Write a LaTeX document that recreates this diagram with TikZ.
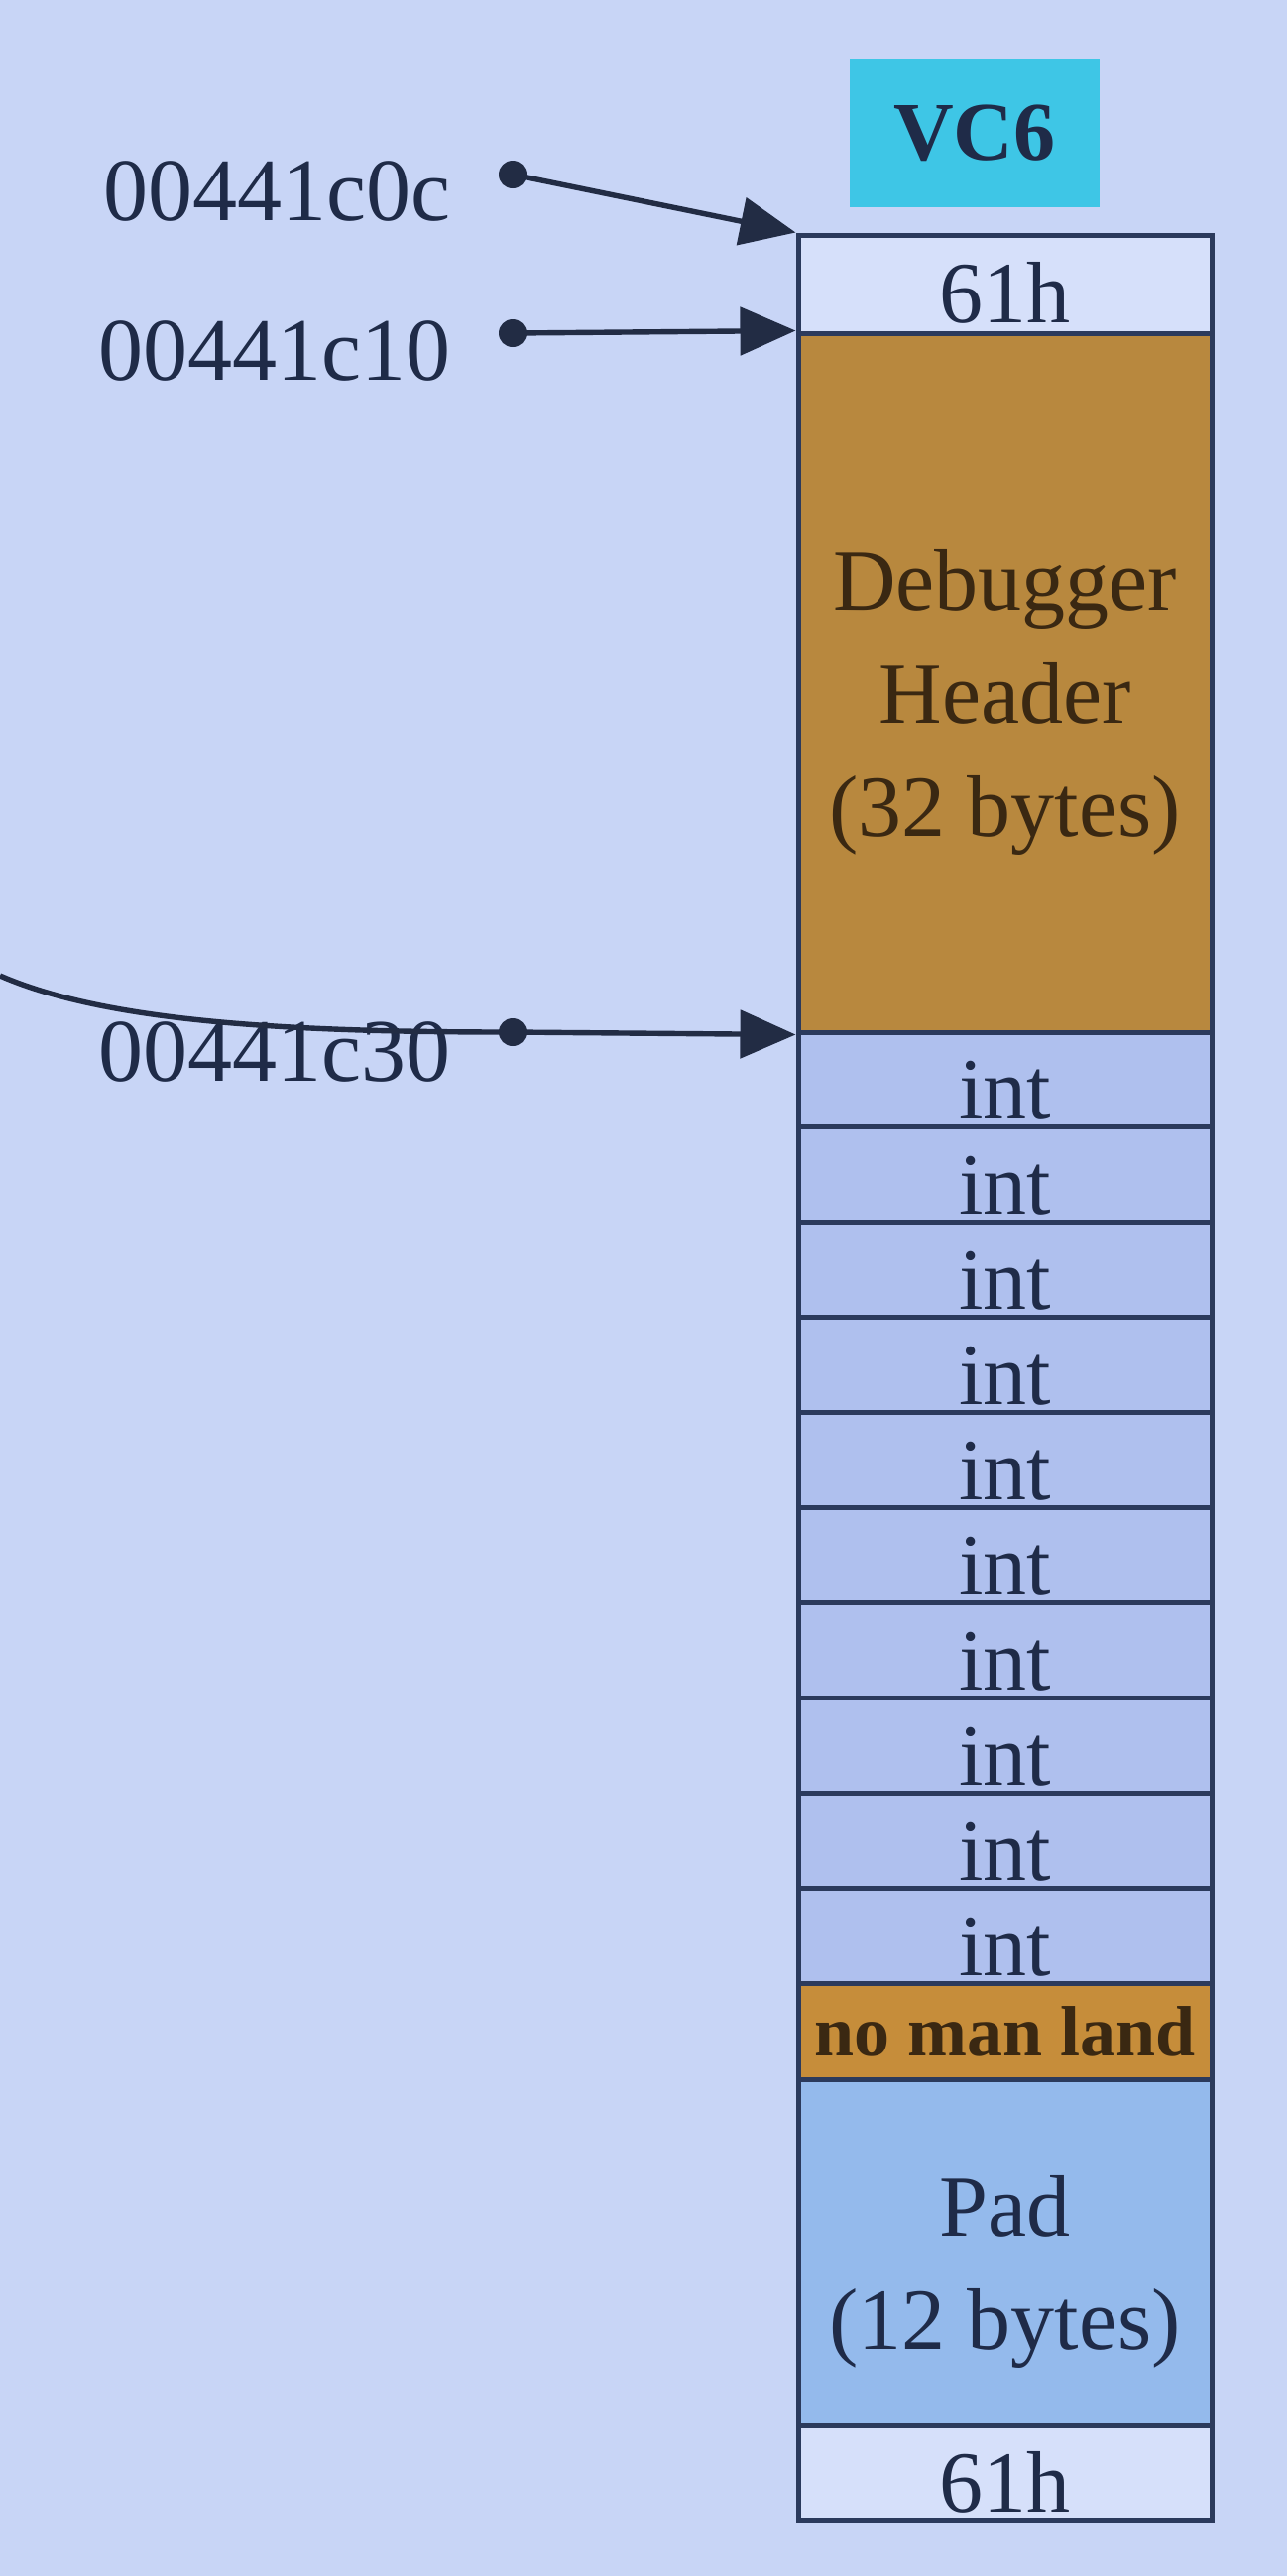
\documentclass[tikz,border=0pt]{standalone}
\usepackage{fontspec}
\setmainfont{Liberation Serif}
\usetikzlibrary{arrows.meta}
\definecolor{bg}{HTML}{C8D5F6}
\definecolor{border}{HTML}{2B3A5C}
\definecolor{ink}{HTML}{222C44}
\definecolor{txt}{HTML}{1F2B48}
\definecolor{brtxt}{HTML}{3A2812}
\definecolor{white61}{HTML}{D6E0FA}
\definecolor{dbgc}{HTML}{B8883E}
\definecolor{intc}{HTML}{AFC0EE}
\definecolor{nmlc}{HTML}{C68D3A}
\definecolor{padc}{HTML}{94BAEC}
\definecolor{vcc}{HTML}{3EC6E6}
\begin{document}
\begin{tikzpicture}[x=0.5pt,y=-0.5pt,
  cell/.style={draw=border, line width=2.5pt, minimum width=208.5pt, inner sep=0pt,
    align=center, text=txt, font=\fontsize{44}{57}\selectfont},
  oneline/.style={text height=39pt, text depth=0pt},
  lbl/.style={anchor=base east, inner sep=0pt, text=txt, font=\fontsize{45}{54}\selectfont},
  dotnode/.style={circle, fill=ink, minimum size=14pt, inner sep=0pt},
  ptr/.style={draw=ink, line width=2.7pt, -{Triangle[length=28pt,width=24pt]}},
  curvestyle/.style={draw=ink, line width=2.7pt}
]
\fill[bg] (0,0) rectangle (1298,2598);
\useasboundingbox (0,0) rectangle (1298,2598);

% VC6 label box
\node[fill=vcc, minimum width=126pt, minimum height=75pt, inner sep=0pt, text=txt,
  font=\fontsize{42}{50}\selectfont\bfseries] (vc6) at (983,134) {VC6};

% memory cells
\node[cell, oneline, fill=white61, minimum height=49.5pt] (top61) at (1013.5,286.5) {61h};
\node[cell, fill=dbgc, minimum height=352.5pt, text=brtxt] (dbg) at (1013.5,688.5)
  {\rule{0pt}{50pt}Debugger\\Header\\(32 bytes)};
\foreach \i in {0,...,9} {
  \pgfmathsetmacro\cy{1041+95.9*\i+47.95}
  \node[cell, oneline, fill=intc, minimum height=47.95pt, text height=40pt] (int\i) at (1013.5,\cy) {int};
}
\node[cell, fill=nmlc, minimum height=48.5pt, text=brtxt,
  font=\fontsize{36}{40}\selectfont\bfseries] (nml) at (1013.5,2048.5) {no man land};
\node[cell, fill=padc, minimum height=174.5pt] (pad) at (1013.5,2271.5)
  {\rule{0pt}{50pt}Pad\\(12 bytes)};
\node[cell, oneline, fill=white61, minimum height=48pt] (bot61) at (1013.5,2494) {61h};

% address labels
\node[lbl] (a1) at (455,222) {00441c0c};
\node[lbl] (a2) at (455,383) {00441c10};
\node[lbl] (a3) at (455,1090) {00441c30};

% dots
\node[dotnode] (d1) at (517,176) {};
\node[dotnode] (d2) at (517,336) {};
\node[dotnode] (d3) at (517,1041) {};

% pointers
\draw[ptr] (d1.center) -- (top61.north west);
\draw[ptr] (d2.center) -- (dbg.north west);
\draw[ptr] (d3.center) -- (dbg.south west);

% incoming curve from the left
\coordinate (cstart) at (0,984);
\draw[curvestyle] (cstart) .. controls (110,1032) and (300,1041) .. (d3.center);
\end{tikzpicture}
\end{document}
